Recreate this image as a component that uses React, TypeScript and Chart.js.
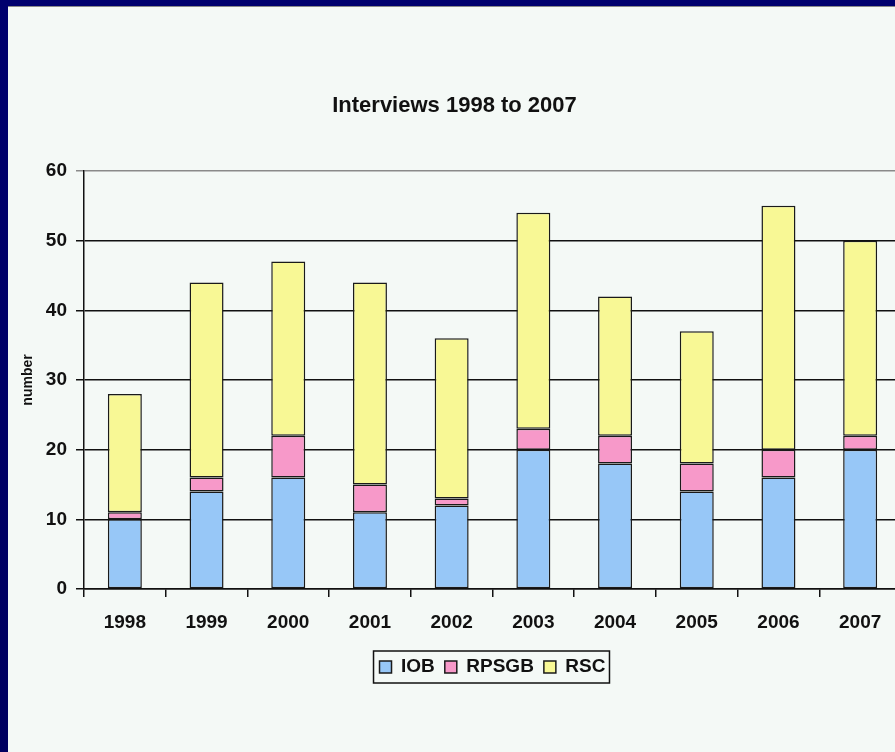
import React, { useEffect, useRef } from "react";
import { Chart, registerables } from "chart.js";

Chart.register(...registerables);

const categories = ["1998", "1999", "2000", "2001", "2002", "2003", "2004", "2005", "2006", "2007"];
const iobValues = [10, 14, 16, 11, 12, 20, 18, 14, 16, 20];
const rpsgbValues = [1, 2, 6, 4, 1, 3, 4, 4, 4, 2];
const rscValues = [17, 28, 25, 29, 23, 31, 20, 19, 35, 28];
const seriesNames = ["IOB", "RPSGB", "RSC"];
const chartTitle = "Interviews 1998 to 2007";
const yAxisTitle = "number";

const FONT = "'Liberation Sans', Arial, sans-serif";

const legendBorder = {
  id: "legendBorder",
  afterDraw(chart: any) {
    const lg = chart.legend;
    if (!lg || !lg.legendHitBoxes || !lg.legendHitBoxes.length) return;
    const hb = lg.legendHitBoxes;
    let l = Infinity;
    let r = -Infinity;
    hb.forEach((b: any) => {
      l = Math.min(l, b.left);
      r = Math.max(r, b.left + b.width);
    });
    const top = hb[0].top - 6.5;
    const h = hb[0].height + 13;
    const ctx = chart.ctx;
    ctx.save();
    ctx.strokeStyle = "#111";
    ctx.lineWidth = 1.5;
    ctx.strokeRect(l - 6, top, r - l + 10, h);
    ctx.restore();
  },
};

export default function App() {
  const ref = useRef<HTMLCanvasElement | null>(null);

  useEffect(() => {
    if (!ref.current) return;
    const mk = (label: string, data: number[], bg: string) => ({
      label,
      data,
      backgroundColor: bg,
      borderColor: "#1a1a1a",
      borderWidth: 1.5,
      borderSkipped: false,
      categoryPercentage: 1,
      barPercentage: 0.416,
    });
    const chart = new Chart(ref.current, {
      type: "bar",
      data: {
        labels: categories,
        datasets: [
          mk(seriesNames[0], iobValues, "#97c7f7"),
          mk(seriesNames[1], rpsgbValues, "#f799c9"),
          mk(seriesNames[2], rscValues, "#f8f895"),
        ],
      },
      options: {
        responsive: false,
        maintainAspectRatio: false,
        animation: false,
        layout: { padding: { left: 0, right: 3, top: 0, bottom: 65.5 } },
        plugins: {
          title: {
            display: true,
            text: chartTitle,
            color: "#111",
            font: { family: FONT, size: 22, weight: "bold" },
            padding: { top: 87, bottom: 51.6 },
          },
          legend: {
            position: "bottom",
            fullSize: false,
            labels: {
              color: "#111",
              font: { family: FONT, size: 19, weight: "bold" },
              boxWidth: 12,
              boxHeight: 12,
              padding: 10,
            },
          },
          tooltip: { enabled: false },
        },
        scales: {
          x: {
            stacked: true,
            offset: true,
            grid: {
              display: true,
              drawOnChartArea: false,
              drawTicks: true,
              tickLength: 8,
              offset: true,
              color: "#111",
              lineWidth: 1.5,
            },
            border: { display: true, color: "#111", width: 1.5 },
            ticks: {
              color: "#111",
              font: { family: FONT, size: 19, weight: "bold" },
              padding: 14.3,
              maxRotation: 0,
              autoSkip: false,
            },
            afterFit(scale: any) {
              scale.height = 58.5;
            },
          },
          y: {
            stacked: true,
            min: 0,
            max: 60,
            grid: {
              drawTicks: true,
              tickLength: 8,
              color: (ctx: any) => (ctx.tick && ctx.tick.value === 60 ? "#8a8a8a" : "#111"),
              lineWidth: 1.5,
            },
            border: { display: true, color: "#111", width: 1.5 },
            ticks: {
              stepSize: 10,
              color: "#111",
              font: { family: FONT, size: 19, weight: "bold" },
              padding: 9,
            },
            title: {
              display: true,
              text: yAxisTitle,
              color: "#111",
              font: { family: FONT, size: 14, weight: "bold" },
              padding: { top: 12, bottom: 0 },
            },
            afterFit(scale: any) {
              scale.width = 76;
            },
          },
        },
      },
      plugins: [legendBorder],
    } as any);
    return () => chart.destroy();
  }, []);

  return (
    <div
      style={{
        position: "fixed",
        left: 0,
        top: 0,
        width: 895,
        height: 752,
        background: "linear-gradient(180deg, #00006e 0%, #000060 100%)",
        overflow: "hidden",
      }}
    >
      <div
        style={{
          position: "absolute",
          left: 8,
          top: 6,
          width: 887,
          height: 746,
          background: "#f4f9f6",
          borderTop: "1px solid #8a8a8a",
          boxSizing: "border-box",
          overflow: "hidden",
        }}
      >
        <canvas
          ref={ref}
          width={896}
          height={746}
          style={{ position: "absolute", left: 0, top: -1, width: 896, height: 746 }}
        />
      </div>
    </div>
  );
}
